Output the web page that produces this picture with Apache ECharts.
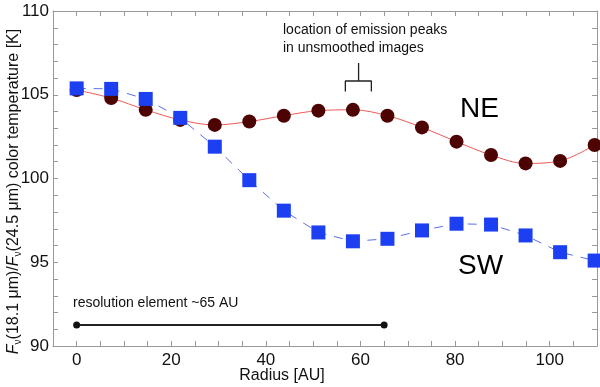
<!DOCTYPE html>
<html>
<head>
<meta charset="utf-8">
<script src="https://cdn.jsdelivr.net/npm/echarts@6/dist/echarts.min.js"></script>
<style>
  html, body { margin: 0; padding: 0; background: #fff; }
  #chart { width: 600px; height: 387px; }
</style>
</head>
<body>
<div id="chart"></div>
<script>
// radius sampling (AU), shared by both profiles
const radius = [0, 7.3, 14.6, 21.9, 29.2, 36.5, 43.8, 51.1, 58.4, 65.7, 73.0, 80.3, 87.6, 94.9, 102.2, 109.5];
const neTemp = [105.28, 104.8, 104.1, 103.5, 103.2, 103.4, 103.75, 104.05, 104.1, 103.75, 103.05, 102.2, 101.4, 100.9, 101.05, 102.0];
const swTemp = [105.38, 105.35, 104.75, 103.62, 101.9, 99.9, 98.08, 96.78, 96.25, 96.4, 96.9, 97.3, 97.25, 96.6, 95.6, 95.1];

// annotation helpers (data coords)
const resolutionX = [0, 65];
const resolutionY = 91.25;
const bracketX = [56.8, 59.6, 62.3];
const bracketY = [105.2, 105.82, 106.9];

const font = "'Liberation Sans', Arial, Helvetica, sans-serif";

const chart = echarts.init(document.getElementById('chart'), null, { renderer: 'canvas' });

const xTickAxis = {
  type: 'value',
  min: -5,
  max: 110,
  interval: 5,
  axisLine: { show: true, onZero: false, lineStyle: { color: '#999', width: 1 } },
  axisTick: { show: true, inside: true, length: 5, lineStyle: { color: '#999' } },
  splitLine: { show: false }
};
const yTickAxis = {
  type: 'value',
  min: 90,
  max: 110,
  interval: 1,
  axisLine: { show: true, onZero: false, lineStyle: { color: '#999', width: 1 } },
  axisTick: { show: true, inside: true, length: 5, lineStyle: { color: '#999' } },
  splitLine: { show: false }
};

const bracketData = [
  [bracketX[0], bracketY[0]], [bracketX[0], bracketY[1]],
  [bracketX[2], bracketY[1]], [bracketX[2], bracketY[0]]
];
const stemData = [[bracketX[1], bracketY[1]], [bracketX[1], bracketY[2]]];

chart.setOption({
  backgroundColor: '#fff',
  animation: false,
  grid: { left: 53, right: 3, top: 11, bottom: 41, containLabel: false, outerBoundsMode: 'none' },
  xAxis: [
    Object.assign({}, xTickAxis, {
      position: 'bottom',
      name: 'Radius [AU]',
      nameLocation: 'middle',
      nameGap: 22,
      nameMoveOverlap: false,
      nameTextStyle: { fontFamily: font, fontSize: 16, color: '#111', padding: [0, 86, 0, 0] },
      axisLabel: {
        fontFamily: font, fontSize: 17, color: '#111', margin: 6,
        formatter: v => (v >= 0 && v % 20 === 0 ? String(v) : '')
      }
    }),
    Object.assign({}, xTickAxis, { position: 'top', axisLabel: { show: false } })
  ],
  yAxis: [
    Object.assign({}, yTickAxis, {
      position: 'left',
      name: '{i|F}{s|ν}(18.1 μm)/{i|F}{s|ν}(24.5 μm) color temperature [K]',
      nameLocation: 'middle',
      nameGap: 30,
      nameMoveOverlap: false,
      nameTextStyle: {
        fontFamily: font, fontSize: 16, color: '#111',
        padding: [0, 26, 0, 0],
        rich: {
          i: { fontFamily: font, fontSize: 16, fontStyle: 'italic', color: '#111' },
          s: { fontFamily: font, fontSize: 10, color: '#111', verticalAlign: 'bottom', padding: [8, 0, 0, 0] }
        }
      },
      axisLabel: {
        fontFamily: font, fontSize: 17, color: '#111', margin: 4,
        formatter: v => (v % 5 === 0 ? String(v) : '')
      }
    }),
    Object.assign({}, yTickAxis, { position: 'right', axisLabel: { show: false } })
  ],
  series: [
    {
      name: 'NE',
      type: 'line',
      data: radius.map((r, i) => [r, neTemp[i]]),
      smooth: 0.35,
      symbol: 'circle',
      symbolSize: 14,
      itemStyle: { color: '#4e0303' },
      lineStyle: { color: '#ee5a55', width: 1 },
      z: 3
    },
    {
      name: 'SW',
      type: 'line',
      data: radius.map((r, i) => [r, swTemp[i]]),
      symbol: 'rect',
      symbolSize: 14,
      itemStyle: { color: '#1c3ff2' },
      lineStyle: { color: '#5a6ee6', width: 1, type: [9, 8] },
      z: 4
    },
    {
      name: 'resolution',
      type: 'line',
      data: resolutionX.map(x => [x, resolutionY]),
      symbol: 'circle',
      symbolSize: 7,
      itemStyle: { color: '#111' },
      lineStyle: { color: '#222', width: 2 },
      z: 2
    },
    {
      name: 'bracket',
      type: 'line',
      data: bracketData,
      symbol: 'none',
      lineStyle: { color: '#222', width: 1.3 },
      z: 2
    },
    {
      name: 'stem',
      type: 'line',
      data: stemData,
      symbol: 'none',
      lineStyle: { color: '#222', width: 1.3 },
      z: 2
    }
  ],
  graphic: [
    {
      type: 'text', left: 283, top: 21,
      style: { text: 'location of emission peaks\nin unsmoothed images', font: '14px ' + font, fill: '#111', lineHeight: 18 }
    },
    {
      type: 'text', left: 73, top: 296,
      style: { text: 'resolution element ~65 AU', font: '14px ' + font, fill: '#111' }
    },
    {
      type: 'text', left: 460, top: 95,
      style: { text: 'NE', font: '28px ' + font, fill: '#000' }
    },
    {
      type: 'text', left: 458, top: 252,
      style: { text: 'SW', font: '28px ' + font, fill: '#000' }
    }
  ]
});
</script>
</body>
</html>
